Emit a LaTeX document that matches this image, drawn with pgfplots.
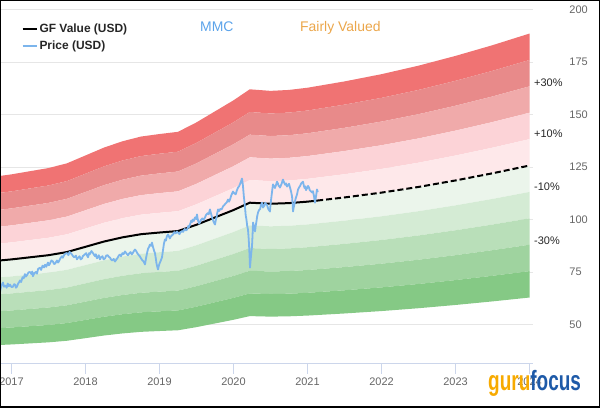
\documentclass[border=0pt]{standalone}
\usepackage{pgfplots}
\pgfplotsset{compat=1.18}
\usepackage{pgfplotstable}
\usepgfplotslibrary{fillbetween}
\usepackage{graphicx}
\usepackage{fontspec}
\setmainfont{Liberation Sans}

\definecolor{r1}{HTML}{F07373}
\definecolor{r2}{HTML}{E88A8A}
\definecolor{r3}{HTML}{F0AAAA}
\definecolor{r4}{HTML}{FCD3D7}
\definecolor{r5}{HTML}{FEE8EA}
\definecolor{g1}{HTML}{EBF5EB}
\definecolor{g2}{HTML}{D4EBD4}
\definecolor{g3}{HTML}{B9DFB9}
\definecolor{g4}{HTML}{9FD39F}
\definecolor{g5}{HTML}{85C985}
\definecolor{pricec}{HTML}{7CB5EC}
\definecolor{axisc}{HTML}{CCD6EB}
\definecolor{gridc}{HTML}{E6E6E6}
\definecolor{tickc}{HTML}{666666}
\definecolor{mmcc}{HTML}{5BA3EA}
\definecolor{fvc}{HTML}{EBA64A}
\definecolor{gfo}{HTML}{F7AA00}
\definecolor{gfb}{HTML}{1E5AA8}

\pgfplotstableread{
x gf b05 b06 b07 b08 b09 b11 b12 b13 b14 b15
2016.845 80.5 40.25 48.3 56.35 64.4 72.45 88.55 96.6 104.65 112.7 120.75
2017.0 81 40.5 48.6 56.7 64.8 72.9 89.1 97.2 105.3 113.4 121.5
2017.25 82 41 49.2 57.4 65.6 73.8 90.2 98.4 106.6 114.8 123
2017.5 83 41.5 49.8 58.1 66.4 74.7 91.3 99.6 107.9 116.2 124.5
2017.75 84.5 42.25 50.7 59.15 67.6 76.05 92.95 101.4 109.85 118.3 126.75
2018.0 87 43.5 52.2 60.9 69.6 78.3 95.7 104.4 113.1 121.8 130.5
2018.25 89.5 44.75 53.7 62.65 71.6 80.55 98.45 107.4 116.35 125.3 134.25
2018.5 91.5 45.75 54.9 64.05 73.2 82.35 100.65 109.8 118.95 128.1 137.25
2018.75 93 46.5 55.8 65.1 74.4 83.7 102.3 111.6 120.9 130.2 139.5
2019.0 93.8 46.9 56.28 65.66 75.04 84.42 103.18 112.56 121.94 131.32 140.7
2019.25 94.5 47.25 56.7 66.15 75.6 85.05 103.95 113.4 122.85 132.3 141.75
2019.5 97.5 48.75 58.5 68.25 78 87.75 107.25 117 126.75 136.5 146.25
2019.75 101 50.5 60.6 70.7 80.8 90.9 111.1 121.2 131.3 141.4 151.5
2020.0 104.5 52.25 62.7 73.15 83.6 94.05 114.95 125.4 135.85 146.3 156.75
2020.22 108 54 64.8 75.6 86.4 97.2 118.8 129.6 140.4 151.2 162
2020.5 107.5 53.75 64.5 75.25 86 96.75 118.25 129 139.75 150.5 161.25
2020.75 107.8 53.9 64.68 75.46 86.24 97.02 118.58 129.36 140.14 150.92 161.7
2021.0 108.5 54.25 65.1 75.95 86.8 97.65 119.35 130.2 141.05 151.9 162.75
2021.5 110.5 55.25 66.3 77.35 88.4 99.45 121.55 132.6 143.65 154.7 165.75
2022.0 112.8 56.4 67.68 78.96 90.24 101.52 124.08 135.36 146.64 157.92 169.2
2022.5 115.5 57.75 69.3 80.85 92.4 103.95 127.05 138.6 150.15 161.7 173.25
2023.0 118.6 59.3 71.16 83.02 94.88 106.74 130.46 142.32 154.18 166.04 177.9
2023.5 122 61 73.2 85.4 97.6 109.8 134.2 146.4 158.6 170.8 183
2024.0 125.7 62.85 75.42 87.99 100.56 113.13 138.27 150.84 163.41 175.98 188.55
}\bands

\pgfplotstableread{
x y
2016.845 80.5
2017.0 81
2017.25 82
2017.5 83
2017.75 84.5
2018.0 87
2018.25 89.5
2018.5 91.5
2018.75 93
2019.0 93.8
2019.25 94.5
2019.5 97.5
2019.75 101
2020.0 104.5
2020.22 108
2020.5 107.5
2020.75 107.8
2021.0 108.5
2021.13 109
}\gfsolid

\pgfplotstableread{
x y
2021.13 109
2021.5 110.5
2022.0 112.8
2022.5 115.5
2023.0 118.6
2023.5 122
2024.0 125.7
}\gfdash

\pgfplotstableread{
x y
2016.845 65.5
2016.86 68
2016.87 69
2016.885 70
2016.90 68
2016.92 68.5
2016.935 67.5
2016.95 69.5
2016.965 68.2
2016.98 69
2017.0 67.8
2017.02 68
2017.035 69.2
2017.05 69
2017.06 67.5
2017.074 68
2017.09 69.5
2017.10 70
2017.115 71
2017.13 70.2
2017.15 72.5
2017.165 72
2017.182 74
2017.195 72.8
2017.21 73.5
2017.23 74.8
2017.25 75
2017.27 74
2017.28 75.2
2017.29 73
2017.31 74.5
2017.33 75
2017.345 74.2
2017.36 76.5
2017.385 77
2017.40 76
2017.42 78
2017.44 77.2
2017.453 78.5
2017.47 77.5
2017.493 79.5
2017.505 78.2
2017.52 79
2017.54 80.5
2017.56 80
2017.575 78.8
2017.59 79
2017.615 80.5
2017.63 79.5
2017.64 80
2017.66 81.5
2017.682 82.5
2017.695 81.8
2017.71 83
2017.73 83.8
2017.75 84
2017.77 83
2017.785 84.6
2017.80 84
2017.818 83.3
2017.835 82.4
2017.85 82
2017.87 82.8
2017.885 81
2017.90 81.8
2017.92 82.5
2017.935 81
2017.953 81.5
2017.965 82.6
2017.98 83
2018.01 84
2018.02 83
2018.034 82
2018.05 84
2018.06 83.5
2018.08 85
2018.101 84
2018.115 83.2
2018.13 82.5
2018.14 83.5
2018.155 81.5
2018.17 82.2
2018.18 83
2018.196 81
2018.21 82
2018.23 82.5
2018.245 81
2018.264 81.5
2018.28 82.8
2018.30 83
2018.315 82.2
2018.331 81.9
2018.345 81
2018.36 80.5
2018.38 81.2
2018.399 80
2018.415 80.8
2018.43 81.5
2018.45 82.8
2018.466 83.3
2018.48 82.5
2018.50 84
2018.515 83.5
2018.534 84.8
2018.55 84
2018.574 83
2018.59 83.8
2018.61 84.5
2018.625 83.4
2018.642 84.2
2018.655 85
2018.669 85.7
2018.685 85
2018.70 84
2018.72 83
2018.736 82.4
2018.75 81.5
2018.77 80.5
2018.785 80
2018.804 78.6
2018.82 82
2018.835 84.5
2018.845 86
2018.86 87
2018.87 88
2018.885 87.5
2018.899 89
2018.91 87.2
2018.92 86
2018.93 84.8
2018.939 84
2018.95 81.5
2018.96 79
2018.97 77.5
2018.98 76.2
2018.99 77.8
2019.00 79
2019.015 80.2
2019.034 82
2019.05 86
2019.06 88.5
2019.074 90.5
2019.087 90
2019.10 92
2019.115 92.9
2019.13 91.8
2019.14 91
2019.155 92
2019.169 92.5
2019.185 92.9
2019.20 94
2019.22 93.4
2019.236 94.3
2019.255 93.6
2019.27 93
2019.285 94
2019.304 94.5
2019.32 94.1
2019.34 95.5
2019.355 94.8
2019.372 95.2
2019.39 97
2019.40 96.4
2019.412 97.6
2019.43 99.5
2019.44 98.8
2019.453 100
2019.465 99.3
2019.48 101
2019.495 100.2
2019.507 102.4
2019.515 100.5
2019.525 99
2019.535 98
2019.547 98.6
2019.56 99.8
2019.58 100.5
2019.595 99.8
2019.615 101
2019.63 102.2
2019.65 103
2019.665 102.5
2019.682 104.8
2019.695 103
2019.71 101
2019.73 99
2019.75 97.6
2019.76 99.5
2019.77 101
2019.78 103
2019.791 104.8
2019.805 104
2019.82 105
2019.84 104.8
2019.858 106.2
2019.875 106.8
2019.89 107.5
2019.91 108.2
2019.926 109.5
2019.94 108.5
2019.953 109.5
2019.97 111.5
2019.993 113.3
2020.01 112.5
2020.03 112
2020.045 113.8
2020.061 115.2
2020.075 115.8
2020.09 117
2020.10 118
2020.115 119.5
2020.128 116
2020.14 111
2020.155 106
2020.165 102
2020.175 100
2020.185 97
2020.196 95.2
2020.205 91
2020.21 88
2020.218 82
2020.223 77.1
2020.23 80
2020.235 82
2020.243 85
2020.25 87.1
2020.258 93
2020.264 98.6
2020.275 96.8
2020.291 94.3
2020.30 97
2020.31 99
2020.32 101.5
2020.331 103.3
2020.345 104.5
2020.36 105
2020.37 106.8
2020.385 108
2020.399 105.7
2020.415 106.5
2020.43 108
2020.44 107.2
2020.453 107
2020.47 105
2020.48 104.5
2020.493 103.8
2020.50 107
2020.51 110
2020.52 113
2020.534 116.7
2020.545 116
2020.56 115
2020.575 116.5
2020.588 118
2020.60 117.2
2020.61 116
2020.62 115.8
2020.628 115.2
2020.64 116.2
2020.65 117
2020.66 118.2
2020.669 119
2020.685 117.5
2020.70 116.5
2020.71 117.2
2020.723 115.7
2020.735 116.2
2020.75 117
2020.764 115.2
2020.78 113
2020.791 111
2020.80 107
2020.804 103.8
2020.815 106
2020.831 108.6
2020.84 110
2020.85 111
2020.862 112.5
2020.872 114.3
2020.885 115.2
2020.90 116
2020.915 117.2
2020.939 118
2020.95 116.2
2020.96 115
2020.97 115.8
2020.98 114
2020.995 115
2021.007 116
2021.02 115.2
2021.03 114
2021.045 113.5
2021.061 112.9
2021.074 113.5
2021.088 111
2021.101 108
2021.115 111
2021.128 114.3
2021.14 113
}\price

\begin{document}
\begin{tikzpicture}
\begin{axis}[
  at={(0bp,0bp)}, anchor=south west,
  scale only axis, width=533bp, height=354bp,
  xmin=2016.845, xmax=2024.047, ymin=31.43, ymax=200,
  axis x line*=bottom, axis y line*=right,
  y axis line style={draw=none},
  x axis line style={draw=axisc, line width=0.8bp},
  xtick={2017,2018,2019,2020,2021,2022,2023,2024},
  xticklabels={2017,2018,2019,2020,2021,2022,2023,2024},
  ytick={50,75,100,125,150,175,200},
  yticklabels={50,75,100,125,150,175,200},
  tick align=outside,
  major tick length=10bp,
  xtick style={draw=axisc, line width=0.8bp},
  ytick style={draw=none},
  xticklabel style={font=\fontsize{11}{13}\selectfont, text=tickc, yshift=-1bp},
  yticklabel style={font=\fontsize{11}{13}\selectfont, text=tickc, anchor=west, xshift=23bp},
  ymajorgrids, grid style={draw=gridc, line width=0.8bp},
  legend style={at={(rel axis cs:0.04,0.965)}, anchor=north west, draw=none, fill=none,
    font=\bfseries\fontsize{12}{14}\selectfont, text=black!85, row sep=2.5bp, inner sep=0pt},
  legend cell align=left,
  legend image code/.code={\draw[#1] (0bp,0bp) -- (14bp,0bp);},
]
\addplot[name path=p15, draw=none, forget plot] table[x=x,y=b15]{\bands};
\addplot[name path=p14, draw=none, forget plot] table[x=x,y=b14]{\bands};
\addplot[name path=p13, draw=none, forget plot] table[x=x,y=b13]{\bands};
\addplot[name path=p12, draw=none, forget plot] table[x=x,y=b12]{\bands};
\addplot[name path=p11, draw=none, forget plot] table[x=x,y=b11]{\bands};
\addplot[name path=p10, draw=none, forget plot] table[x=x,y=gf]{\bands};
\addplot[name path=p09, draw=none, forget plot] table[x=x,y=b09]{\bands};
\addplot[name path=p08, draw=none, forget plot] table[x=x,y=b08]{\bands};
\addplot[name path=p07, draw=none, forget plot] table[x=x,y=b07]{\bands};
\addplot[name path=p06, draw=none, forget plot] table[x=x,y=b06]{\bands};
\addplot[name path=p05, draw=none, forget plot] table[x=x,y=b05]{\bands};
\addplot[fill=r1, draw=none, forget plot] fill between[of=p15 and p14];
\addplot[fill=r2, draw=none, forget plot] fill between[of=p14 and p13];
\addplot[fill=r3, draw=none, forget plot] fill between[of=p13 and p12];
\addplot[fill=r4, draw=none, forget plot] fill between[of=p12 and p11];
\addplot[fill=r5, draw=none, forget plot] fill between[of=p11 and p10];
\addplot[fill=g1, draw=none, forget plot] fill between[of=p10 and p09];
\addplot[fill=g2, draw=none, forget plot] fill between[of=p09 and p08];
\addplot[fill=g3, draw=none, forget plot] fill between[of=p08 and p07];
\addplot[fill=g4, draw=none, forget plot] fill between[of=p07 and p06];
\addplot[fill=g5, draw=none, forget plot] fill between[of=p06 and p05];

\addplot[black, line width=2bp] table[x=x,y=y]{\gfsolid};
\addlegendentry{GF Value (USD)}
\addplot[black, line width=2bp, dash pattern=on 6bp off 3bp, forget plot] table[x=x,y=y]{\gfdash};
\addplot[pricec, line width=1.8bp, line join=round] table[x=x,y=y]{\price};
\addlegendentry{Price (USD)}

\coordinate (l30) at (axis cs:2024.047,165);
\coordinate (l10) at (axis cs:2024.047,141);
\coordinate (m10) at (axis cs:2024.047,115.5);
\coordinate (m30) at (axis cs:2024.047,90);
\end{axis}
\node[anchor=west, font=\fontsize{11}{13}\selectfont, text=black!85, inner sep=1bp] at (l30) {+30\%};
\node[anchor=west, font=\fontsize{11}{13}\selectfont, text=black!85, inner sep=1bp] at (l10) {+10\%};
\node[anchor=west, font=\fontsize{11}{13}\selectfont, text=black!85, inner sep=1bp] at (m10) {-10\%};
\node[anchor=west, font=\fontsize{11}{13}\selectfont, text=black!85, inner sep=1bp] at (m30) {-30\%};
\node[anchor=base west, inner sep=0pt, font=\fontsize{14}{16}\selectfont, text=mmcc] at (200bp,332bp) {MMC};
\node[anchor=base west, inner sep=0pt, font=\fontsize{14}{16}\selectfont, text=fvc] at (300bp,332bp) {Fairly Valued};
\node[anchor=base west, inner sep=0pt, font=\bfseries\fontsize{28}{30}\selectfont] at (488bp,-26.5bp) {\scalebox{0.68}[1]{\textcolor{gfo}{guru}\textcolor{gfb}{focus}}};
\draw[black, line width=1.3bp] (0.6bp,-43.5bp) rectangle (599.4bp,362.9bp);
\pgfresetboundingbox
\useasboundingbox (0bp,-56.5bp) rectangle (600bp,363.5bp);
\end{tikzpicture}
\end{document}
